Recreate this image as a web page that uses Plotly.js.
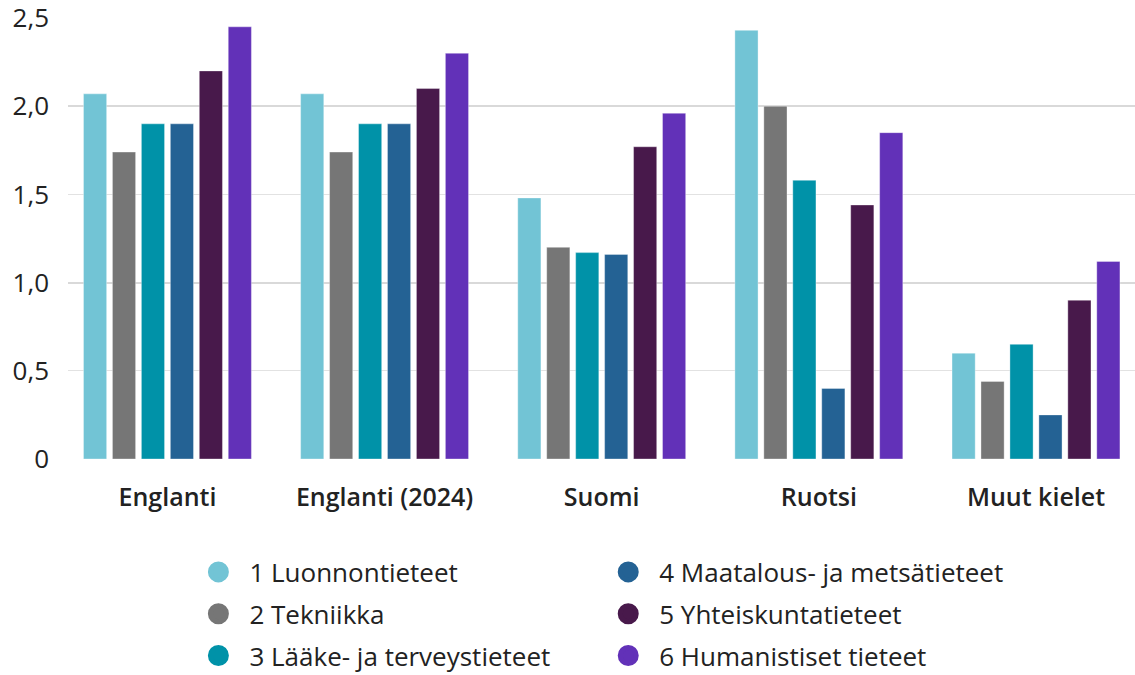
<!DOCTYPE html>
<html>
<head>
<meta charset="utf-8">
<script src="https://cdn.plot.ly/plotly-3.0.1.min.js"></script>
<style>html,body{margin:0;padding:0;background:#fff;overflow:hidden;}</style>
</head>
<body>
<div id="chart" style="width:1135px;height:675px;"></div>
<script>
const categories = ["Englanti", "Englanti (2024)", "Suomi", "Ruotsi", "Muut kielet"];
const seriesNames = ["1 Luonnontieteet", "2 Tekniikka", "3 Lääke- ja terveystieteet", "4 Maatalous- ja metsätieteet", "5 Yhteiskuntatieteet", "6 Humanistiset tieteet"];
const s1 = [2.07, 2.07, 1.48, 2.43, 0.60];
const s2 = [1.74, 1.74, 1.20, 2.00, 0.44];
const s3 = [1.90, 1.90, 1.17, 1.58, 0.65];
const s4 = [1.90, 1.90, 1.16, 0.40, 0.25];
const s5 = [2.20, 2.10, 1.77, 1.44, 0.90];
const s6 = [2.45, 2.30, 1.96, 1.85, 1.12];
const yTickVals = [0, 0.5, 1, 1.5, 2, 2.5];
const yTickText = ["0", "0,5", "1,0", "1,5", "2,0", "2,5"];

const seriesValues = [s1, s2, s3, s4, s5, s6];
const colors = ["#72C4D5", "#767676", "#0092A8", "#246294", "#48194B", "#6231B8"];
const legendIds = ["legend", "legend", "legend", "legend2", "legend2", "legend2"];

const traces = [];
seriesValues.forEach((vals, i) => {
  traces.push({
    type: "bar", x: categories, y: vals, name: seriesNames[i],
    marker: {color: colors[i], line: {color: "rgba(255,255,255,0.35)", width: 1}},
    showlegend: false, hoverinfo: "x+y+name"
  });
});
seriesValues.forEach((vals, i) => {
  traces.push({
    type: "scatter", mode: "markers", x: [null], y: [null], name: seriesNames[i],
    marker: {color: colors[i], size: 16, symbol: "circle", line: {color: colors[i], width: 10}},
    legend: legendIds[i], legendgroup: "g" + i, showlegend: true, hoverinfo: "skip"
  });
});
// overlay axis for thicker integer gridlines
traces.push({type: "scatter", mode: "markers", x: [null], y: [null], yaxis: "y2", showlegend: false, hoverinfo: "skip"});

const legendFont = {family: "Open Sans, sans-serif", size: 26, color: "#222"};
const layout = {
  width: 1135, height: 675,
  margin: {l: 68, r: 0, t: 18, b: 216, autoexpand: false},
  paper_bgcolor: "#fff", plot_bgcolor: "#fff",
  separators: ", ",
  barmode: "group", bargap: 0.2, bargroupgap: 0.2,
  font: {family: "Open Sans, sans-serif", color: "#222"},
  xaxis: {
    type: "category", range: [-0.458, 4.456], showgrid: false, zeroline: false,
    showline: false, ticks: "", ticklabelstandoff: 21,
    tickfont: {family: "Open Sans, sans-serif", size: 25, color: "#222", weight: 600}
  },
  yaxis: {
    range: [0, 2.5], tickvals: yTickVals, ticktext: yTickText, ticklabeloverflow: "allow",
    showgrid: true, gridcolor: "#e2e2e2", gridwidth: 1, zeroline: false, showline: false,
    ticks: "", ticklabelstandoff: 18,
    tickfont: {family: "Open Sans, sans-serif", size: 26, color: "#222"}
  },
  yaxis2: {
    range: [0, 2.5], overlaying: "y", tickvals: [0, 1, 2], showticklabels: false,
    showgrid: true, gridcolor: "#d9d9d9", gridwidth: 2, zeroline: false, showline: false, ticks: ""
  },
  legend: {
    x: 0.1119, xanchor: "left", y: -0.203, yanchor: "top", orientation: "v",
    font: legendFont, tracegroupgap: 5, itemwidth: 52, bgcolor: "rgba(0,0,0,0)"
  },
  legend2: {
    x: 0.496, xanchor: "left", y: -0.203, yanchor: "top", orientation: "v",
    font: legendFont, tracegroupgap: 5, itemwidth: 52, bgcolor: "rgba(0,0,0,0)"
  },
  showlegend: true
};

Plotly.newPlot("chart", traces, layout, {displayModeBar: false, staticPlot: true});
</script>
</body>
</html>
